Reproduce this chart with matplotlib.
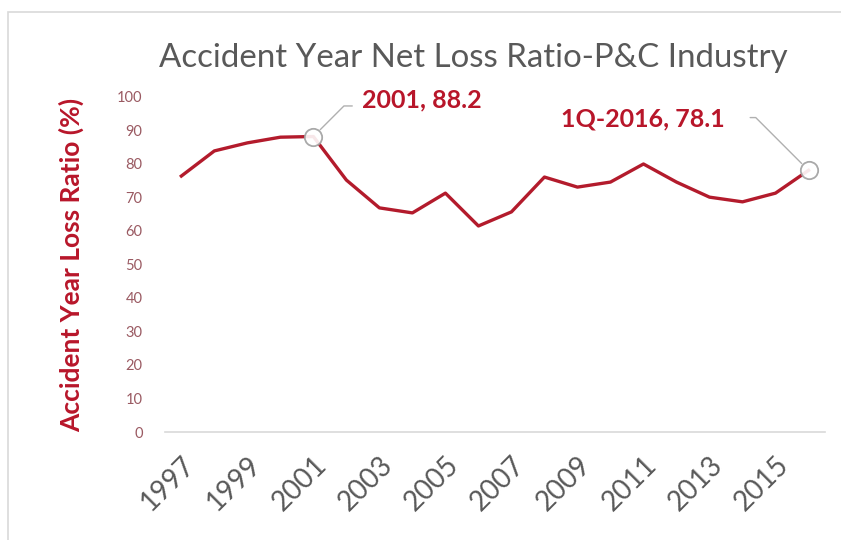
import matplotlib
matplotlib.use("Agg")
import matplotlib.pyplot as plt
from matplotlib.patches import Rectangle

plt.rcParams['font.family'] = ['Lato', 'DejaVu Sans']

years = [str(y) for y in range(1997, 2017)]
loss_ratio = [76.4, 83.9, 86.3, 88.0, 88.2, 75.2, 66.9, 65.4, 71.3, 61.5,
              65.7, 76.1, 73.1, 74.6, 80.0, 74.6, 70.1, 68.7, 71.3, 78.1]
tick_labels = [y if (int(y) - 1997) % 2 == 0 and y != "2016" else "" for y in years]
y_ticks = list(range(0, 101, 10))
title = "Accident Year Net Loss Ratio-P&C Industry"
ylabel = "Accident Year Loss Ratio (%)"
callouts = [(4, "2001, 88.2"), (19, "1Q-2016, 78.1")]

line_color = "#b31b2c"
label_red = "#b8162a"
tick_red = "#9a5a62"
gray_text = "#595959"
leader_gray = "#b0b0b0"

fig = plt.figure(figsize=(8.41, 5.40), dpi=100)
ax = fig.add_axes([0.196, 0.2, 0.785, 0.6204])

x = list(range(len(years)))
ax.plot(x, loss_ratio, color=line_color, lw=2.4, solid_joinstyle='round', zorder=3)

for idx, txt in callouts:
    ax.plot(idx, loss_ratio[idx], marker='o', ms=12.5, mfc='white', mec='#a0a0a0',
            mew=1.3, zorder=4, alpha=0.9)

# callout 2001
i0 = callouts[0][0]
ax.annotate('', xy=(i0, loss_ratio[i0]), xytext=(28, 22), textcoords='offset points',
            arrowprops=dict(arrowstyle='-', color=leader_gray, lw=1,
                            shrinkA=0, shrinkB=7,
                            connectionstyle='angle,angleA=0,angleB=45,rad=0'))
ax.annotate(callouts[0][1], xy=(i0, loss_ratio[i0]), xytext=(35, 26),
            textcoords='offset points', fontsize=18, fontweight='bold',
            color=label_red, va='center', ha='left')

# callout 2016
i1 = callouts[1][0]
ax.annotate('', xy=(i1, loss_ratio[i1]), xytext=(-42, 38), textcoords='offset points',
            arrowprops=dict(arrowstyle='-', color=leader_gray, lw=1,
                            shrinkA=0, shrinkB=7,
                            connectionstyle='angle,angleA=0,angleB=-45,rad=0'))
ax.annotate(callouts[1][1], xy=(i1, loss_ratio[i1]), xytext=(-60, 37),
            textcoords='offset points', fontsize=18, fontweight='bold',
            color=label_red, va='center', ha='right')

ax.set_xlim(-0.5, len(years) - 0.5)
ax.set_ylim(0, 100)
ax.set_xticks(x)
ax.set_xticklabels(tick_labels, rotation=45, ha='right', rotation_mode='anchor',
                   fontsize=20, color=gray_text)
ax.set_yticks(y_ticks)
ax.set_yticklabels([str(v) for v in y_ticks], fontsize=10.5, color=tick_red)
ax.tick_params(axis='both', length=0)
ax.tick_params(axis='x', pad=14)
ax.tick_params(axis='y', pad=16)
for s in ['top', 'right', 'left']:
    ax.spines[s].set_visible(False)
ax.spines['bottom'].set_color('#d9d9d9')
ax.spines['bottom'].set_linewidth(1.2)

ax.set_ylabel(ylabel, fontsize=19, fontweight='bold', color=label_red, labelpad=24)
fig.text(0.563, 0.893, title, fontsize=23.8, color=gray_text, ha='center', va='center')

fig.patches.append(Rectangle((0.009, -0.01), 1.1, 0.988, transform=fig.transFigure,
                             fill=False, ec='#d9d9d9', lw=1.2))

fig.savefig("out.png", dpi=100, facecolor='white')
